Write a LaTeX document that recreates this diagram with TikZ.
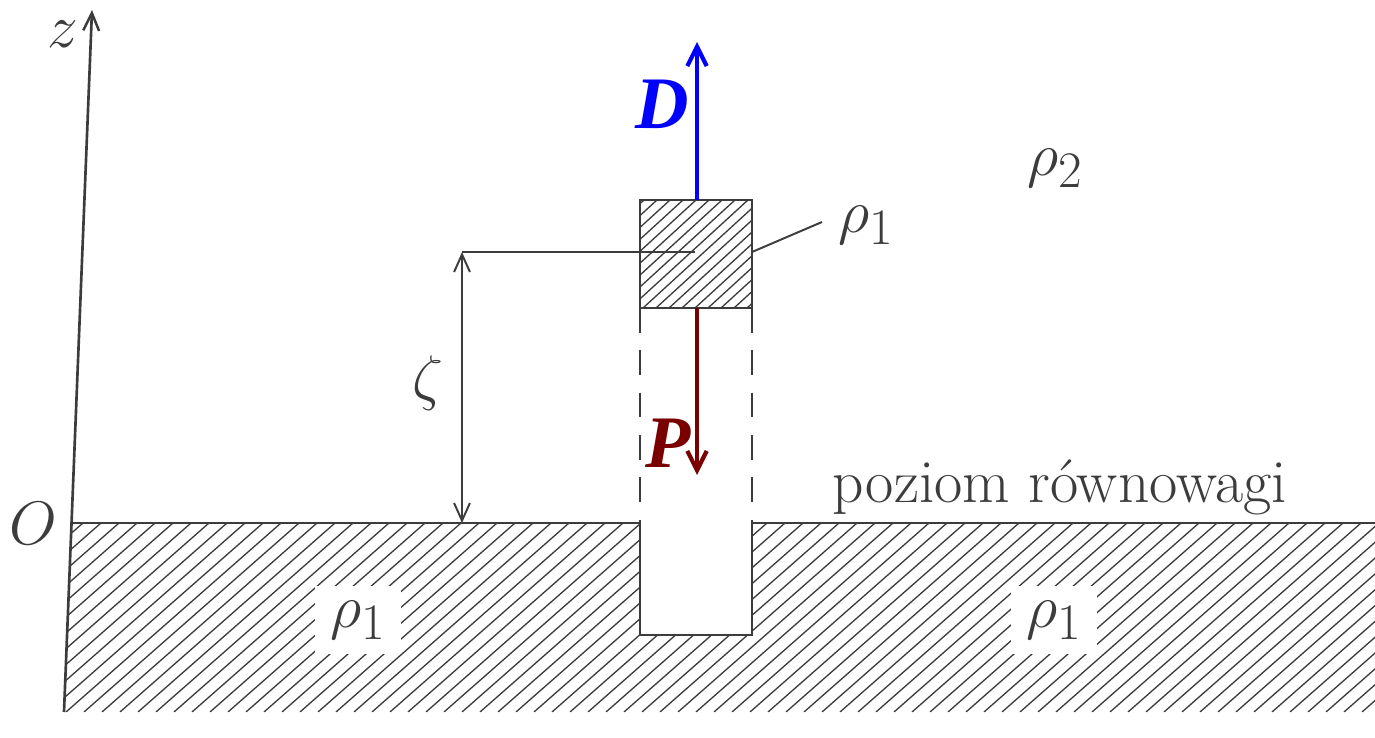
\documentclass[tikz,border=0pt]{standalone}
\usepackage{fontspec}
\newfontfamily\timesf{Liberation Serif}
\usetikzlibrary{arrows.meta}
\definecolor{inkgray}{HTML}{3C3C3C}
\definecolor{darkred}{HTML}{7A0000}
\begin{document}
\begin{tikzpicture}[x=0.567pt,y=-0.567pt,
  ink/.style={draw=inkgray,line width=1.5pt},
  hatch/.style={draw=inkgray,line width=0.75pt},
  barb/.style={-{Straight Barb[length=10pt,width=9pt,line width=1.4pt]}},
  force/.style={line width=2.4pt,-{Straight Barb[length=11pt,width=11pt,line width=2.4pt]}},
  lbl/.style={text=inkgray,font=\fontsize{24.88}{30}\selectfont,scale=1.4},
  whitelbl/.style={lbl,fill=white,inner sep=6pt}]
\useasboundingbox (0,0) rectangle (1375,738);
\fill[white] (0,0) rectangle (1375,738);
% hatched ground
\begin{scope}
  \clip (72,523) -- (640,523) -- (640,635) -- (752,635) -- (752,523) -- (1375,523) -- (1375,712) -- (64,712) -- cycle;
  \foreach \i in {-240,-222,...,1400} \draw[hatch] (\i,712) -- (\i+215,523);
\end{scope}
% hatched block
\begin{scope}
  \clip (640,200) rectangle (752,308);
  \foreach \i in {500,513,...,780} \draw[hatch] (\i,308) -- (\i+118,200);
\end{scope}
% coordinates
\coordinate (ax0) at (64,712);
\coordinate (ax1) at (92,10);
\coordinate (gl0) at (72,523);
\coordinate (sl0) at (640,523);
\coordinate (sl1) at (640,635);
\coordinate (sr1) at (752,635);
\coordinate (sr0) at (752,523);
\coordinate (gr) at (1375,523);
\coordinate (bt) at (640,200);
\coordinate (bb) at (752,308);
\coordinate (lead0) at (752,252);
\coordinate (lead1) at (822,222);
\coordinate (ref0) at (462,252);
\coordinate (ref1) at (695,252);
\coordinate (dim1) at (462,523);
\coordinate (dtop) at (697,200);
\coordinate (dend) at (697,42);
\coordinate (pbot) at (697,308);
\coordinate (pend) at (697,475);
% axis
\draw[ink,barb] (ax0) -- (ax1);
\node[lbl,inner sep=1pt] (zl) at (63,34) {$z$};
\node[lbl] (ol) at (33,524) {$O$};
% ground line and slot
\draw[ink] (gl0) -- (sl0) -- (sl1) -- (sr1) -- (sr0) -- (gr);
% dashed walls
\draw[ink,dash pattern=on 14pt off 10pt] (640,308) -- (sl0);
\draw[ink,dash pattern=on 14pt off 10pt] (752,308) -- (sr0);
% block
\draw[ink] (bt) rectangle (bb);
\draw[ink,line width=1.1pt] (lead0) -- (lead1);
\node[lbl,anchor=west] (rb) at (830,225) {$\rho_1$};
\node[lbl] (r2) at (1055,168) {$\rho_2$};
\node[whitelbl] (rl) at (358,620) {$\rho_1$};
\node[whitelbl] (rr) at (1054,620) {$\rho_1$};
% reference line and dimension
\draw[ink,line width=1.1pt] (ref0) -- (ref1);
\draw[ink,line width=1.1pt,{Straight Barb[length=10pt,width=9pt,line width=1.1pt]}-{Straight Barb[length=10pt,width=9pt,line width=1.1pt]}] (ref0) -- (dim1);
\node[lbl] (zeta) at (428,383) {$\zeta$};
% forces
\draw[blue,force] (dtop) -- (dend);
\node[text=blue,font=\timesf\bfseries\itshape\fontsize{42}{46}\selectfont] (dl) at (662,104) {D};
\draw[darkred,force] (pbot) -- (pend);
\node[text=darkred,font=\timesf\bfseries\itshape\fontsize{42}{46}\selectfont] (pl) at (668,443) {P};
\node[lbl] (pz) at (1060,487) {poziom równowagi};
\end{tikzpicture}
\end{document}
